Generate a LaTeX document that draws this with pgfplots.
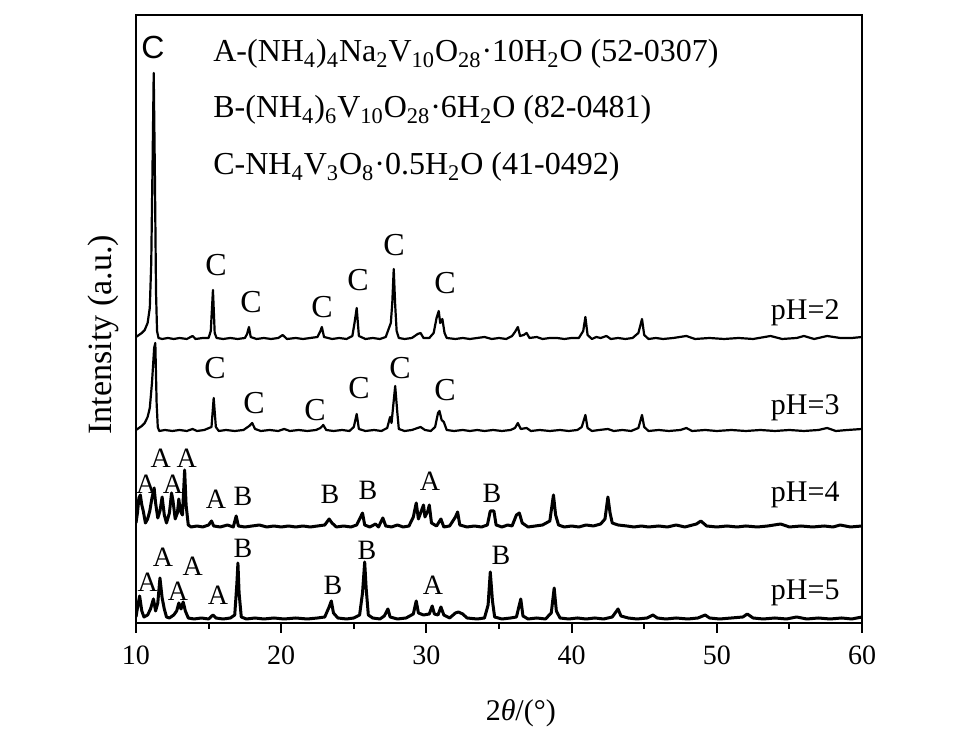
\documentclass[border=0pt]{standalone}
\usepackage{fontspec}
\setmainfont{Liberation Serif}
\newfontfamily\sansC{Liberation Sans}
\usepackage{pgfplots}
\pgfplotsset{compat=1.18}
\newcommand{\fs}[1]{\fontsize{#1}{#1}\selectfont}
\begin{document}
\begin{tikzpicture}
\begin{axis}[
  scale only axis, width=363pt, height=304pt,
  xmin=10, xmax=60, ymin=0, ymax=608,
  xtick={10,20,...,60}, minor x tick num=1, ytick=\empty,
  xtick pos=bottom, tick align=outside,
  major tick length=5pt, minor tick length=3pt,
  every tick/.style={black, line width=1pt},
  axis line style={line width=1.2pt},
  /pgf/number format/assume math mode=true,
  xticklabel style={font=\fs{14}, yshift=-3pt},
  xlabel={2\textit{θ}/(°)},
  xlabel style={font=\fs{15}, at={(axis description cs:0.53,-0.148)}, anchor=center},
  ylabel={Intensity (a.u.)},
  ylabel style={font=\fs{17}, at={(axis description cs:-0.0455,0.474)}, anchor=center, rotate=0},
  no markers,
  cycle list={{black, line width=1pt, line join=round}},
]
% pH=2
\addplot[black, no markers, line width=1.1pt, line join=round] coordinates {
(10.0,286)(10.2,288)(10.4,290)(10.6,293)(10.8,300)(10.95,315)(11.05,360)(11.15,470)(11.22,550)(11.3,450)(11.38,330)(11.45,292)(11.55,285)
(11.8,284)(12.2,285)(12.6,284)(13.0,285)(13.5,284)(13.9,287)(14.1,284)(14.6,285)(15.0,285)(15.15,292)(15.3,333)(15.42,290)(15.55,285)
(16.0,284)(16.5,285)(17.0,284)(17.5,285)(17.65,289)(17.78,296)(17.9,286)(18.3,284)(18.8,285)(19.3,284)(19.8,285)(20.1,288)(20.4,284)
(21.0,285)(21.5,284)(22.0,285)(22.5,286)(22.7,292)(22.8,296)(22.95,286)(23.5,284)(24.0,285)(24.5,284)(24.9,287)(25.05,300)(25.2,315)(25.35,287)
(25.8,284)(26.3,285)(26.8,284)(27.2,286)(27.45,296)(27.55,300)(27.65,320)(27.75,354)(27.85,318)(27.95,292)(28.1,285)(28.5,284)(29.0,285)
(29.4,289)(29.6,290)(29.8,285)(30.2,285)(30.5,290)(30.7,305)(30.85,312)(30.95,300)(31.1,304)(31.25,290)(31.4,285)(32.0,284)(32.5,285)
(33.0,284)(33.5,285)(34.0,286)(34.5,284)(35.0,285)(35.5,284)(35.9,287)(36.1,291)(36.3,296)(36.45,287)(36.7,288)(36.9,290)(37.1,285)
(37.6,286)(38.0,284)(38.5,285)(39.0,285)(39.5,284)(40.0,285)(40.5,285)(40.8,292)(40.95,306)(41.1,288)(41.4,284)(41.7,286)(42.0,285)
(42.4,287)(42.7,284)(43.2,285)(43.7,284)(44.2,285)(44.6,290)(44.85,304)(45.0,288)(45.3,284)(45.8,285)(46.3,284)(47.0,285)(47.9,287)
(48.5,284)(49.5,285)(50.5,284)(51.5,285)(52.5,284)(53.7,287)(54.5,284)(55.5,285)(56.0,287)(56.7,284)(57.6,287)(58.5,285)(59.3,285)(60.0,286)
};
% pH=3
\addplot[black, no markers, line width=1.1pt, line join=round] coordinates {
(10.0,193)(10.2,195)(10.4,197)(10.6,200)(10.8,206)(10.95,215)(11.1,240)(11.25,275)(11.33,280)(11.42,220)(11.5,196)(11.6,192)
(12.0,193)(12.5,192)(13.0,193)(13.5,192)(13.9,194)(14.2,192)(14.7,193)(15.2,196)(15.35,225)(15.5,196)(15.7,192)(16.2,193)(16.8,192)
(17.4,193)(17.8,197)(18.0,200)(18.2,194)(18.6,192)(19.2,193)(19.8,192)(20.2,194)(20.6,192)(21.2,193)(21.8,192)(22.4,193)(22.7,195)
(22.9,198)(23.1,193)(23.6,192)(24.2,193)(24.7,192)(25.0,196)(25.2,209)(25.35,194)(25.8,192)(26.4,193)(26.9,192)(27.3,195)(27.5,206)
(27.6,200)(27.7,215)(27.85,237)(28.0,210)(28.1,194)(28.5,192)(29.0,193)(29.6,196)(29.9,193)(30.3,192)(30.6,196)(30.8,210)(30.9,212)
(31.05,203)(31.2,201)(31.4,193)(31.9,192)(32.5,193)(33.0,192)(33.5,193)(34.0,192)(34.6,193)(35.2,192)(35.8,193)(36.1,195)(36.3,200)
(36.5,194)(36.9,195)(37.2,192)(37.8,193)(38.5,192)(39.2,193)(39.8,192)(40.4,193)(40.7,196)(40.95,208)(41.1,195)(41.4,192)(41.9,193)
(42.5,194)(42.9,192)(43.5,193)(44.1,192)(44.6,195)(44.85,208)(45.0,196)(45.3,192)(46.0,193)(46.7,192)(47.5,193)(47.9,195)(48.3,192)
(49.2,193)(50.0,192)(51.0,193)(52.0,192)(53.0,193)(54.0,192)(55.0,193)(56.0,192)(57.0,193)(57.6,195)(58.2,192)(59.0,193)(60.0,194)
};
% pH=4
\addplot[black, no markers, line width=1.5pt, line join=round] coordinates {
(10.0,100)(10.1,110)(10.2,125)(10.3,128)(10.4,118)(10.5,112)(10.65,100)(10.8,104)(10.95,112)(11.1,125)(11.25,135)(11.35,120)(11.5,105)
(11.65,112)(11.8,126)(11.95,108)(12.1,100)(12.3,110)(12.45,130)(12.55,122)(12.7,104)(12.85,110)(12.95,124)(13.05,112)(13.2,108)(13.35,153)
(13.45,118)(13.6,98)(13.8,96)(14.2,97)(14.6,96)(15.0,98)(15.2,102)(15.35,97)(15.8,96)(16.3,98)(16.7,96)(16.9,107)(17.05,97)(17.5,96)
(18.0,97)(18.5,98)(19.0,96)(19.5,97)(20.0,96)(20.5,97)(21.0,96)(21.5,97)(22.0,96)(22.5,97)(23.0,98)(23.3,104)(23.5,100)(23.8,96)
(24.3,97)(24.8,96)(25.2,98)(25.6,110)(25.75,98)(26.1,96)(26.5,99)(26.7,96)(27.0,105)(27.2,97)(27.6,96)(28.0,98)(28.4,96)(28.8,97)
(29.1,106)(29.3,120)(29.45,104)(29.6,110)(29.8,118)(29.9,106)(30.1,112)(30.2,118)(30.35,100)(30.7,97)(31.0,104)(31.2,96)(31.6,97)
(32.0,106)(32.15,111)(32.3,98)(32.8,96)(33.3,97)(33.8,96)(34.2,98)(34.4,112)(34.65,112)(34.8,98)(35.2,96)(35.6,98)(35.9,97)(36.2,108)
(36.4,110)(36.6,100)(37.0,96)(37.5,97)(38.0,98)(38.5,102)(38.75,128)(38.9,108)(39.1,98)(39.5,96)(40.0,97)(40.5,96)(41.0,98)(41.5,97)
(42.0,99)(42.3,104)(42.5,126)(42.65,110)(42.8,100)(43.2,98)(43.8,97)(44.3,96)(44.8,97)(45.3,96)(46.0,97)(46.6,96)(47.2,98)(47.8,96)
(48.6,99)(48.9,102)(49.3,97)(50.0,96)(50.7,97)(51.4,96)(52.0,97)(52.8,96)(53.5,97)(54.4,99)(55.0,96)(55.8,97)(56.6,96)(57.4,97)
(58.0,96)(58.5,98)(59.2,96)(60.0,97)
};
% pH=5
\addplot[black, no markers, line width=1.5pt, line join=round] coordinates {
(10.0,6)(10.1,15)(10.25,27)(10.4,12)(10.55,6)(10.8,8)(11.0,14)(11.2,24)(11.35,12)(11.5,20)(11.65,45)(11.8,25)(11.95,14)(12.1,6)
(12.3,5)(12.6,8)(12.8,12)(12.95,20)(13.1,14)(13.25,21)(13.4,12)(13.6,5)(14.0,4)(14.5,5)(15.0,4)(15.3,8)(15.5,5)(16.0,4)(16.5,5)
(16.8,8)(16.95,40)(17.02,60)(17.1,30)(17.25,6)(17.6,4)(18.2,5)(18.8,4)(19.5,5)(20.2,4)(21.0,5)(21.8,4)(22.5,5)(23.0,6)(23.3,16)
(23.45,22)(23.6,10)(23.9,5)(24.5,4)(25.0,5)(25.4,8)(25.6,30)(25.75,61)(25.85,35)(26.0,8)(26.3,5)(26.8,4)(27.1,7)(27.35,14)(27.5,6)
(28.0,4)(28.6,5)(29.1,9)(29.3,22)(29.45,10)(29.8,8)(30.2,9)(30.4,17)(30.55,9)(30.8,8)(31.0,16)(31.2,8)(31.6,5)(32.0,10)(32.2,11)
(32.5,9)(32.8,5)(33.5,4)(34.0,5)(34.25,18)(34.4,51)(34.55,22)(34.7,6)(35.2,4)(35.8,5)(36.2,6)(36.5,24)(36.65,7)(37.0,4)(37.6,5)
(38.2,4)(38.6,10)(38.8,35)(38.95,12)(39.2,5)(39.8,4)(40.4,5)(41.0,4)(41.6,5)(42.2,4)(42.8,6)(43.2,14)(43.4,7)(43.9,5)(44.5,4)
(45.2,5)(45.6,8)(45.9,5)(46.5,4)(47.2,5)(48.0,4)(48.7,5)(49.2,8)(49.5,5)(50.2,4)(51.0,5)(51.8,6)(52.1,9)(52.5,5)(53.2,4)(54.0,5)
(54.8,4)(55.5,6)(56.2,4)(57.0,5)(57.8,4)(58.6,5)(59.3,4)(60.0,6)
};
% big C
\node[font=\sansC\fs{16}] at (axis cs:11.17,576) {C};
% legend text
\node[anchor=base west, font=\fs{16}, inner sep=0pt] at (axis cs:15.3,561) {A-(NH\textsubscript{4})\textsubscript{4}Na\textsubscript{2}V\textsubscript{10}O\textsubscript{28}·10H\textsubscript{2}O (52-0307)};
\node[anchor=base west, font=\fs{16}, inner sep=0pt] at (axis cs:15.3,505) {B-(NH\textsubscript{4})\textsubscript{6}V\textsubscript{10}O\textsubscript{28}·6H\textsubscript{2}O (82-0481)};
\node[anchor=base west, font=\fs{16}, inner sep=0pt] at (axis cs:15.3,448) {C-NH\textsubscript{4}V\textsubscript{3}O\textsubscript{8}·0.5H\textsubscript{2}O (41-0492)};
% pH labels
\node[anchor=base east, font=\fs{15}, inner sep=0pt] at (axis cs:58.48,303) {pH=2};
\node[anchor=base east, font=\fs{15}, inner sep=0pt] at (axis cs:58.48,208) {pH=3};
\node[anchor=base east, font=\fs{15}, inner sep=0pt] at (axis cs:58.48,121) {pH=4};
\node[anchor=base east, font=\fs{15}, inner sep=0pt] at (axis cs:58.48,23) {pH=5};
% peak labels
\begin{scope}[every node/.style={font=\fs{16}, inner sep=0pt}]
\node at (axis cs:15.51,358) {C};
\node at (axis cs:17.92,321) {C};
\node at (axis cs:22.81,316) {C};
\node at (axis cs:25.29,343) {C};
\node at (axis cs:27.77,378) {C};
\node at (axis cs:31.28,340) {C};
\node at (axis cs:15.44,255) {C};
\node at (axis cs:18.13,220) {C};
\node at (axis cs:22.33,213) {C};
\node at (axis cs:25.36,235) {C};
\node at (axis cs:28.18,255) {C};
\node at (axis cs:31.28,233) {C};
\end{scope}
\begin{scope}[every node/.style={font=\fs{14}, inner sep=0pt}]
\node at (axis cs:10.7,139) {A};
\node at (axis cs:11.7,165) {A};
\node at (axis cs:12.55,139) {A};
\node at (axis cs:13.5,165) {A};
\node at (axis cs:15.51,124) {A};
\node at (axis cs:17.37,127) {B};
\node at (axis cs:23.36,129) {B};
\node at (axis cs:25.98,133) {B};
\node at (axis cs:30.25,142) {A};
\node at (axis cs:34.52,130) {B};
\node at (axis cs:10.8,41) {A};
\node at (axis cs:11.86,66) {A};
\node at (axis cs:12.89,32) {A};
\node at (axis cs:13.9,57) {A};
\node at (axis cs:15.65,28) {A};
\node at (axis cs:17.37,75) {B};
\node at (axis cs:23.57,38) {B};
\node at (axis cs:25.91,73) {B};
\node at (axis cs:30.45,38) {A};
\node at (axis cs:35.14,68) {B};
\end{scope}
\end{axis}
\path (-68pt,-59.5pt) rectangle (412pt,311.5pt);
\end{tikzpicture}
\end{document}
